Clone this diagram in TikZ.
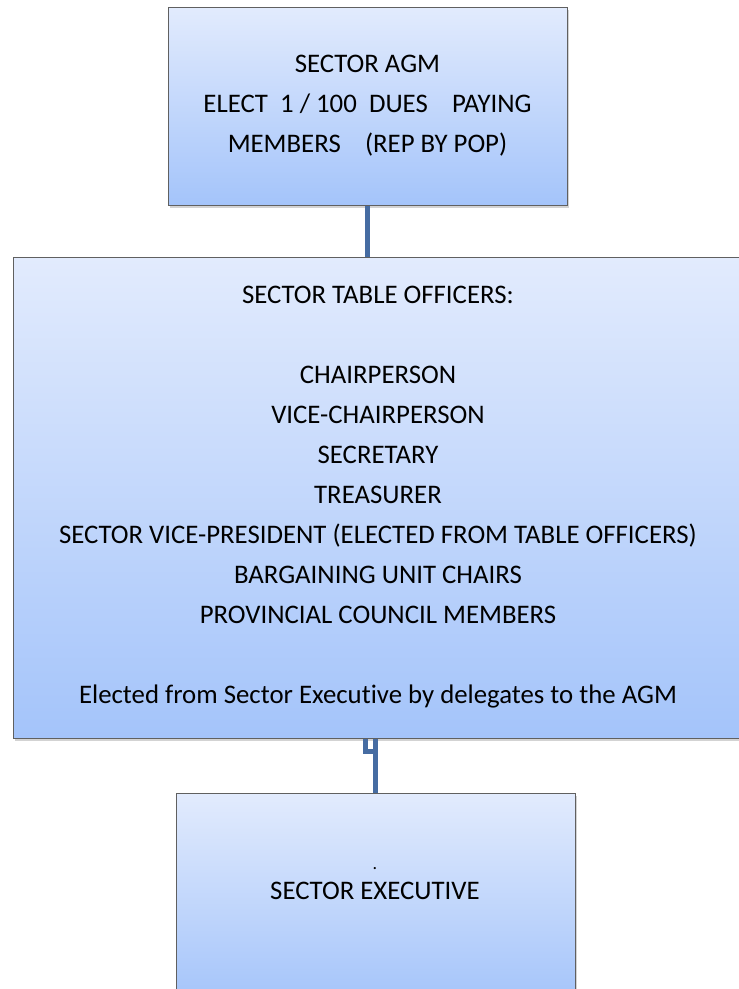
\documentclass[tikz,border=0pt]{standalone}
\usepackage{fontspec}
\setmainfont{Carlito}[Ligatures=NoCommon]
\usetikzlibrary{positioning,shadows}

\definecolor{boxtop}{RGB}{226,235,253}
\definecolor{boxbot}{RGB}{164,196,250}
\definecolor{linkblue}{RGB}{70,108,162}

\tikzset{
  orgbox/.style={rectangle, draw=gray!75!black, line width=1pt, inner sep=0pt,
    top color=boxtop, bottom color=boxbot,
    drop shadow={shadow xshift=2pt, shadow yshift=-3pt, opacity=.35}},
  boxtext/.style={align=center, font=\fontsize{26.8}{40}\selectfont},
  link/.style={draw=linkblue, line width=5pt},
}

\begin{document}
\begin{tikzpicture}[x=1pt,y=-1pt]
  \useasboundingbox (0,0) rectangle (739,989);

  % boxes
  \node[orgbox, minimum width=399pt, minimum height=198pt] (agm) at (367.5,106) {};
  \node[orgbox, minimum width=730pt, minimum height=481pt] (table) at (378,497.5) {};
  \node[orgbox, minimum width=399pt, minimum height=210pt] (exec) at (375.5,898) {};

  % texts
  \node[boxtext] (agmText) at (agm.center)
    {SECTOR AGM\\ELECT\ \ 1 / 100\ \ DUES\ \ \ \ PAYING\\MEMBERS\ \ \ \ (REP BY POP)};
  \node[boxtext] (tableText) at (table.center)
    {SECTOR TABLE OFFICERS:\\[40pt]
     CHAIRPERSON\\
     VICE-CHAIRPERSON\\
     SECRETARY\\
     TREASURER\\
     SECTOR VICE-PRESIDENT (ELECTED FROM TABLE OFFICERS)\\
     BARGAINING UNIT CHAIRS\\
     PROVINCIAL COUNCIL MEMBERS\\[40pt]
     Elected from Sector Executive by delegates to the AGM};
  \node[boxtext] (execText) at (375,884)
    {{\fontsize{18}{18}\selectfont .}\\[-10pt]SECTOR EXECUTIVE};

  % connectors
  \draw[link] (agm.south) -- (agm.south |- table.north);
  \coordinate (hook) at ([xshift=-10pt]table.south -| exec.north);
  \draw[link] (table.south -| exec.north) -- ++(0,13);
  \draw[link] (hook) -- ++(0,13) -| (exec.north);

\end{tikzpicture}
\end{document}
